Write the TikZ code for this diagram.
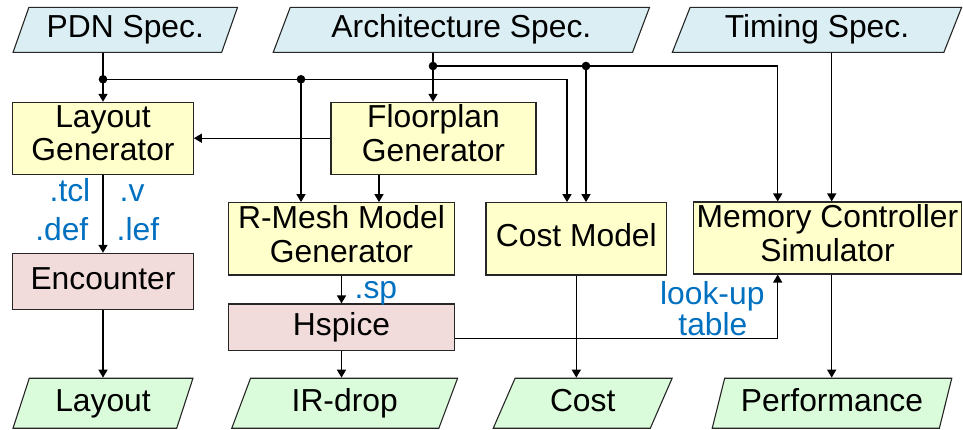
\documentclass[tikz,border=0pt]{standalone}
\usepackage{fontspec}
\setmainfont{Liberation Sans}
\usetikzlibrary{shapes.geometric,arrows.meta}
\definecolor{specblue}{HTML}{DAEEF3}
\definecolor{procyellow}{HTML}{FFFFCC}
\definecolor{toolpink}{HTML}{F2DCDB}
\definecolor{outgreen}{HTML}{DAFCDA}
\definecolor{filetext}{HTML}{0070C0}
\begin{document}
\begin{tikzpicture}[x=1pt,y=-1pt,
  every node/.style={font=\fontsize{31.8}{33.5}\selectfont, inner sep=0pt, align=center},
  oneline/.style={text height=22.5pt, text depth=6.5pt},
  twoline/.style={text depth=10pt},
  para/.style={trapezium, trapezium stretches=true, draw=black!85, line width=1.1pt, oneline},
  spec/.style={para, fill=specblue, trapezium left angle=66, trapezium right angle=114,
    minimum width=#1, minimum height=45},
  result/.style={para, fill=outgreen, trapezium left angle=70, trapezium right angle=110,
    minimum width=#1, minimum height=50},
  proc/.style 2 args={draw=black!85, line width=1.1pt, fill=procyellow, minimum width=#1, minimum height=#2},
  tool/.style 2 args={draw=black!85, line width=1.1pt, fill=toolpink, minimum width=#1, minimum height=#2, oneline},
  lbl/.style={text=filetext},
  arr/.style={line width=1.4pt, -{Triangle[length=8pt,width=9pt]}},
  dotr/.style={fill=black},
]
\useasboundingbox (0,0) rectangle (963,429);

% inputs
\node[spec=225] (pdn) at (125.3,29.8) {PDN Spec.};
\node[spec=377] (arch) at (461.4,29.8) {Architecture Spec.};
\node[spec=290] (timing) at (817,29.8) {Timing Spec.};

% generators and tools
\node[proc={180.6}{71.7}, twoline] (lg) at (103,138.2) {Layout\\Generator};
\node[proc={205}{71.7}, twoline] (fp) at (433.5,138.2) {Floorplan\\Generator};
\node[tool={180.3}{55.7}] (enc) at (103,281.2) {Encounter};
\node[proc={225.6}{72.3}, twoline] (rm) at (341.5,238.8) {R-Mesh Model\\Generator};
\node[tool={225.6}{46.7}] (hs) at (341.5,327.3) {Hspice};
\node[proc={180.7}{72.3}, oneline] (cm) at (576.3,238.8) {Cost Model};
\node[proc={268.4}{72}, twoline] (mc) at (827.5,238) {Memory Controller\\Simulator};

% outputs
\node[result=180] (lay) at (103,403.2) {Layout};
\node[result=226] (ir) at (344.7,403.2) {IR-drop};
\node[result=180] (cost) at (582.7,403.2) {Cost};
\node[result=240] (perf) at (832,403.2) {Performance};

% junctions and routing points
\coordinate (j1) at (103,79.3);
\coordinate (j2) at (301,79.3);
\coordinate (c1) at (567,79.3);
\coordinate (j3) at (433,66);
\coordinate (j4) at (586,66);
\coordinate (c2) at (777.7,66);
\coordinate (xT) at (831.7,0);
\coordinate (xF) at (379,0);
\coordinate (c3) at (777.7,338.3);

% PDN spec distribution
\draw[arr] (pdn.south -| j1) -- (lg.north -| j1);
\draw[arr] (j1) -| (cm.north -| c1);
\draw[arr] (j2) -- (rm.north -| j2);

% architecture spec distribution
\draw[arr] (arch.south -| j3) -- (fp.north -| j3);
\draw[arr] (j3) -| (mc.north -| c2);
\draw[arr] (j4) -- (cm.north -| j4);

% timing spec
\draw[arr] (timing.south -| xT) -- (mc.north -| xT);

% floorplan outputs
\draw[arr] (fp.west) -- (lg.east);
\draw[arr] (fp.south -| xF) -- (rm.north -| xF);

% layout flow
\draw[arr] (lg) -- (enc);
\draw[arr] (enc) -- (lay);

% IR-drop flow
\draw[arr] (rm) -- (hs);
\draw[arr] (hs.south) -- (hs.south |- ir.north);
\draw[arr] (hs.east |- c3) -- (c3) -- (mc.south -| c3);

% cost and performance
\draw[arr] (cm.south) -- (cm.south |- cost.north);
\draw[arr] (mc.south -| xT) -- (perf.north -| xT);

% junction dots
\foreach \j in {j1,j2,j3,j4} \fill[dotr] (\j) circle (4.3);

% file labels
\node[lbl, anchor=base east] (tcl) at (90.5,201.7) {.tcl};
\node[lbl, anchor=base west] (vfile) at (119.5,201.7) {.v};
\node[lbl, anchor=base east] (def) at (88.5,240) {.def};
\node[lbl, anchor=base west] (lef) at (116.5,240) {.lef};
\node[lbl, anchor=base west] (sp) at (354.5,298.3) {.sp};
\node[lbl, anchor=base, text depth=0pt] (lut1) at (712.3,304.8) {look-up};
\node[lbl, anchor=base, text height=20pt] (lut2) at (712.9,335) {table};
\end{tikzpicture}
\end{document}
